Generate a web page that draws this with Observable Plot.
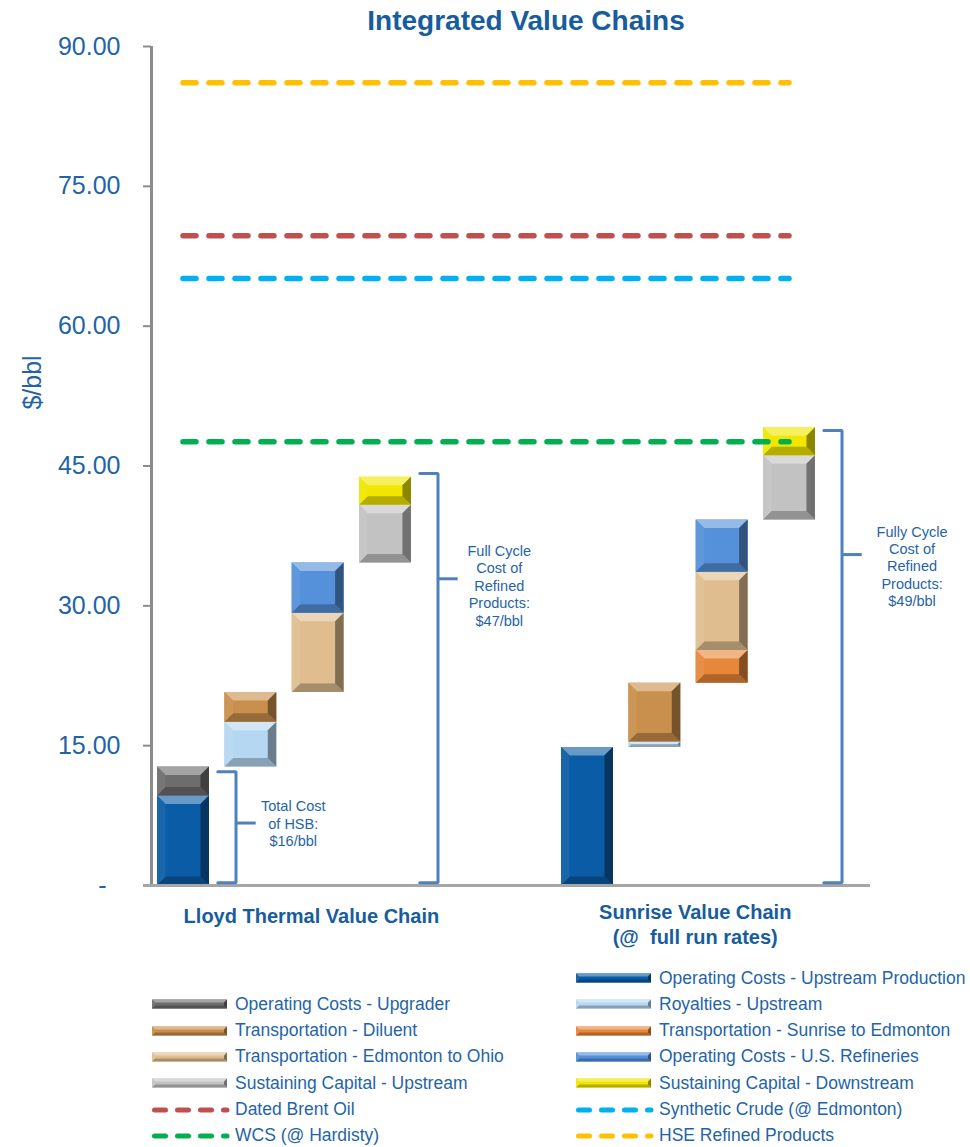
<!DOCTYPE html>
<html>
<head>
<meta charset="utf-8">
<script src="https://cdn.jsdelivr.net/npm/d3@7"></script>
<script src="https://cdn.jsdelivr.net/npm/@observablehq/plot@0.6"></script>
<style>
  body { margin: 0; background: #fff; font-family: "Liberation Sans", Arial, sans-serif; }
  #wrap { position: relative; width: 970px; height: 1147px; overflow: hidden; }
  #title { position: absolute; left: 0; top: 2px; width: 970px; box-sizing: border-box; padding-left: 82px;
           text-align: center; font-size: 28px; font-weight: bold; color: #175d9e; line-height: 38px; }
  #chart { position: absolute; left: 0; top: 38px; }
  #chart svg { overflow: visible; }
  .lg { position: absolute; height: 22px; display: flex; align-items: center; font-size: 17.5px; color: #1f64a8; white-space: nowrap; }
  .lg svg { display: block; margin-right: 8px; overflow: visible; }
</style>
</head>
<body>
<div id="wrap">
  <div id="title">Integrated Value Chains</div>
  <div id="chart"></div>
  <div id="legend"></div>
</div>
<script>
// ---------------- data ----------------
const chainNames = ["Lloyd Thermal Value Chain", "Sunrise Value Chain\n(@\u00a0 full run rates)"];

const costCategories = [
  "Operating Costs - Upstream Production",
  "Operating Costs - Upgrader",
  "Royalties - Upstream",
  "Transportation - Diluent",
  "Transportation - Sunrise to Edmonton",
  "Transportation - Edmonton to Ohio",
  "Operating Costs - U.S. Refineries",
  "Sustaining Capital - Upstream",
  "Sustaining Capital - Downstream"
];
const costColors = ["#0b5ca6", "#6d6d6d", "#b6d7f1", "#c98f4c", "#e6873a", "#dfbd8f", "#5590da", "#c2c2c2", "#f0e600"];

const lloydSegments = [
  "Operating Costs - Upstream Production", "Operating Costs - Upgrader",
  "Royalties - Upstream", "Transportation - Diluent",
  "Transportation - Edmonton to Ohio", "Operating Costs - U.S. Refineries",
  "Sustaining Capital - Upstream", "Sustaining Capital - Downstream"
];
const lloydValues  = [9.6, 3.1, 4.8, 3.2, 8.5, 5.4, 6.2, 3.0];
const lloydColumns = [0, 0, 1, 1, 2, 2, 3, 3];

const sunriseSegments = [
  "Operating Costs - Upstream Production",
  "Royalties - Upstream", "Transportation - Diluent",
  "Transportation - Sunrise to Edmonton", "Transportation - Edmonton to Ohio", "Operating Costs - U.S. Refineries",
  "Sustaining Capital - Upstream", "Sustaining Capital - Downstream"
];
const sunriseValues  = [14.8, 0.6, 6.3, 3.5, 8.4, 5.6, 6.9, 3.0];
const sunriseColumns = [0, 1, 1, 2, 2, 2, 3, 3];

const benchmarkNames  = ["Dated Brent Oil", "Synthetic Crude (@ Edmonton)", "WCS (@ Hardisty)", "HSE Refined Products"];
const benchmarkValues = [69.7, 65.1, 47.6, 86.1];
const benchmarkColors = ["#c0504d", "#00b0f0", "#00b050", "#ffc000"];

const yTicks = [0, 15, 30, 45, 60, 75, 90];

const bracketTexts  = ["Total Cost\nof HSB:\n$16/bbl",
                       "Full Cycle\nCost of\nRefined\nProducts:\n$47/bbl",
                       "Fully Cycle\nCost of\nRefined\nProducts:\n$49/bbl"];
const bracketFrom   = [0.3, 0.3, 0.3];
const bracketTo     = [12.2, 44.2, 48.8];
const bracketTickAt = [6.7, 32.9, 35.5];
const bracketTextAt = [6.7, 32.2, 34.3];

// ---------------- layout (not data) ----------------
const chainFirstSlot = [0, 6];
const chainLabelSlot = [1.9, 7.6];
const bracketSlot = [0, 3, 9];
const bracketTextOffset = [0.85, 0.91, 1.04];
const X_DOMAIN = [-0.475, 10.203];
const TEXT_BLUE = "#1f64a8";
const DARK_BLUE = "#175d9e";
const BRACKET = "#4f81bd";

// ---------------- build tables ----------------
const colorOf = new Map(costCategories.map((c, i) => [c, costColors[i]]));
function buildChain(segments, values, columns, firstSlot, chain) {
  let cum = 0;
  return segments.map((s, i) => {
    const y1 = cum; cum += values[i];
    return {chain, segment: s, slot: firstSlot + columns[i], y1, y2: cum, color: colorOf.get(s)};
  });
}
const bars = [
  ...buildChain(lloydSegments, lloydValues, lloydColumns, chainFirstSlot[0], chainNames[0]),
  ...buildChain(sunriseSegments, sunriseValues, sunriseColumns, chainFirstSlot[1], chainNames[1])
];
const slots = bars.map(d => d.slot);
const firstSlot = d3.min(slots), lastSlot = d3.max(slots);

const benchmarks = benchmarkNames.map((n, i) => ({name: n, value: benchmarkValues[i], color: benchmarkColors[i]}));

const brackets = bracketTexts.map((t, i) => {
  const vx = bracketSlot[i] + 0.78;
  return {i, text: t, vx, tipX: vx - 0.27, tickX: vx + 0.3, from: bracketFrom[i], to: bracketTo[i],
          tickAt: bracketTickAt[i], textX: vx + bracketTextOffset[i], textAt: bracketTextAt[i]};
});
const bracketPts = brackets.flatMap(b => [
  {i: b.i, x: b.tipX, y: b.to}, {i: b.i, x: b.vx, y: b.to},
  {i: b.i, x: b.vx, y: b.from}, {i: b.i, x: b.tipX, y: b.from}
]);

// ---------------- plot ----------------
const plot = Plot.plot({
  width: 970,
  height: 920,
  marginTop: 8,
  marginBottom: 73,
  marginLeft: 151,
  marginRight: 100,
  style: {fontFamily: "'Liberation Sans', Arial, sans-serif", overflow: "visible", background: "white"},
  x: {type: "linear", domain: X_DOMAIN, axis: null},
  y: {domain: [0, 90]},
  color: {type: "identity"},
  marks: [
    Plot.axisY({
      ticks: yTicks, tickSize: 8, tickPadding: 23, fontSize: 25,
      stroke: "#8c8c8c", strokeWidth: 2, fill: TEXT_BLUE, label: null,
      tickFormat: d => d === 0 ? "-\u00a0\u00a0" : d.toFixed(2)
    }),
    Plot.ruleX([X_DOMAIN[0]], {stroke: "#8c8c8c", strokeWidth: 3}),
    Plot.rect(bars, {
      x1: d => d.slot - 0.5, x2: d => d.slot + 0.5, y1: "y1", y2: "y2",
      fill: "color", insetLeft: 7.7, insetRight: 7.7
    }),
    Plot.ruleY([0], {stroke: "#a6a6a6", strokeWidth: 3, insetLeft: -8}),
    Plot.ruleY(benchmarks, {
      y: "value", x1: firstSlot, x2: lastSlot, stroke: "color",
      strokeWidth: 5.5, strokeDasharray: "13,13", strokeLinecap: "round"
    }),
    Plot.line(bracketPts, {x: "x", y: "y", z: "i", stroke: BRACKET, strokeWidth: 3, strokeLinejoin: "miter", curve: "linear"}),
    Plot.ruleY(brackets, {y: "tickAt", x1: "vx", x2: "tickX", stroke: BRACKET, strokeWidth: 3}),
    Plot.text(brackets, {x: "textX", y: "textAt", text: "text", fill: TEXT_BLUE, fontSize: 14.5, lineHeight: 1.2, textAnchor: "middle"}),
    Plot.text(["$/bbl"], {frameAnchor: "left", dx: -119, dy: -83.5, rotate: -90, fontSize: 25, fill: TEXT_BLUE, textAnchor: "middle"}),
    Plot.text([chainNames[0]], {x: () => chainLabelSlot[0], text: d => d, frameAnchor: "bottom", lineAnchor: "middle", dy: 31,
      fill: DARK_BLUE, fontSize: 20, fontWeight: "bold", textAnchor: "middle"}),
    Plot.text([chainNames[1]], {x: () => chainLabelSlot[1], text: d => d, frameAnchor: "bottom", lineAnchor: "middle", dy: 37.5,
      fill: DARK_BLUE, fontSize: 20, fontWeight: "bold", lineHeight: 1.25, textAnchor: "middle"})
  ]
});
document.getElementById("chart").appendChild(plot);

// ---------------- bevel decoration ----------------
const mix = (c, t, target) => d3.interpolateRgb(c, target)(t);
function bevelPolys(x, y, w, h, c, depth) {
  const d = Math.min(depth, w / 2, h / 2);
  return [
    [[[x, y], [x + w, y], [x + w - d, y + d], [x + d, y + d]], mix(c, 0.38, "#fff")],
    [[[x, y + h], [x + w, y + h], [x + w - d, y + h - d], [x + d, y + h - d]], mix(c, 0.25, "#000")],
    [[[x, y], [x + d, y + d], [x + d, y + h - d], [x, y + h]], mix(c, 0.06, "#fff")],
    [[[x + w, y], [x + w - d, y + d], [x + w - d, y + h - d], [x + w, y + h]], mix(c, 0.42, "#000")]
  ];
}
const NS = "http://www.w3.org/2000/svg";
function addBevel(parent, after, x, y, w, h, c, depth) {
  const g = document.createElementNS(NS, "g");
  bevelPolys(x, y, w, h, c, depth).forEach(([pts, fill]) => {
    const p = document.createElementNS(NS, "polygon");
    p.setAttribute("points", pts.map(q => q.join(",")).join(" "));
    p.setAttribute("fill", fill);
    g.appendChild(p);
  });
  parent.insertBefore(g, after ? after.nextSibling : null);
}
const colorSet = new Set(costColors.map(c => c.toLowerCase()));
Array.from(plot.querySelectorAll("rect")).forEach(r => {
  const c = (r.getAttribute("fill") || "").toLowerCase();
  if (!colorSet.has(c)) return;
  const x = +r.getAttribute("x"), y = +r.getAttribute("y");
  const w = +r.getAttribute("width"), h = +r.getAttribute("height");
  addBevel(r.parentNode, r, x, y, w, h, c, 8.5);
});

// ---------------- legend ----------------
const legendItems = [
  ...costCategories.map((c, i) => ({name: c, color: costColors[i], kind: "bar"})),
  ...benchmarks.map(b => ({name: b.name, color: b.color, kind: "dash"}))
];
// Excel-like flow: two columns, first left cell empty
const legend = document.getElementById("legend");
const colSwatchX = [152, 576];
const rowY0 = 978, rowStep = 26.3;
legendItems.forEach((item, k) => {
  const cell = k + 1;
  const col = cell % 2, row = Math.floor(cell / 2);
  const div = document.createElement("div");
  div.className = "lg";
  div.style.left = colSwatchX[col] + "px";
  div.style.top = (rowY0 + row * rowStep - 11) + "px";
  const svg = document.createElementNS(NS, "svg");
  svg.setAttribute("width", 75); svg.setAttribute("height", 10);
  if (item.kind === "bar") {
    const rect = document.createElementNS(NS, "rect");
    rect.setAttribute("x", 0); rect.setAttribute("y", 0.5);
    rect.setAttribute("width", 75); rect.setAttribute("height", 9);
    rect.setAttribute("fill", item.color);
    svg.appendChild(rect);
    addBevel(svg, rect, 0, 0.5, 75, 9, item.color, 3);
  } else {
    const line = document.createElementNS(NS, "line");
    line.setAttribute("x1", 2.5); line.setAttribute("x2", 75);
    line.setAttribute("y1", 5); line.setAttribute("y2", 5);
    line.setAttribute("stroke", item.color);
    line.setAttribute("stroke-width", 5);
    line.setAttribute("stroke-dasharray", "11,12");
    line.setAttribute("stroke-linecap", "round");
    svg.appendChild(line);
  }
  div.appendChild(svg);
  const span = document.createElement("span");
  span.textContent = item.name;
  div.appendChild(span);
  legend.appendChild(div);
});
</script>
</body>
</html>
